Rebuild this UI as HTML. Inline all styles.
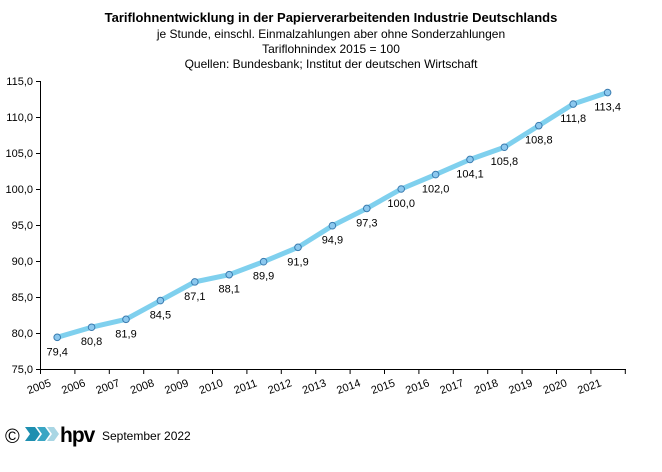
<!DOCTYPE html>
<html><head><style>body{margin:0;background:#fff}</style></head><body>
<svg width="662" height="467" xmlns="http://www.w3.org/2000/svg" font-family="Liberation Sans, Arial, sans-serif">
<rect width="662" height="467" fill="#fff"/>
<g text-anchor="middle" fill="#000">
<text x="331" y="22" font-size="13" font-weight="bold">Tariflohnentwicklung in der Papierverarbeitenden Industrie Deutschlands</text>
<text x="331" y="38" font-size="12">je Stunde,  einschl. Einmalzahlungen  aber ohne Sonderzahlungen</text>
<text x="331" y="53" font-size="12">Tariflohnindex  2015  = 100</text>
<text x="331" y="68" font-size="12">Quellen: Bundesbank; Institut der deutschen Wirtschaft</text>
</g>
<g stroke="#000" stroke-width="1">
<line x1="40.5" y1="81" x2="40.5" y2="369"/>
<line x1="40" y1="369.5" x2="626" y2="369.5"/>
<line x1="36" y1="81.5" x2="40" y2="81.5"/><line x1="36" y1="117.5" x2="40" y2="117.5"/><line x1="36" y1="153.5" x2="40" y2="153.5"/><line x1="36" y1="189.5" x2="40" y2="189.5"/><line x1="36" y1="225.5" x2="40" y2="225.5"/><line x1="36" y1="261.5" x2="40" y2="261.5"/><line x1="36" y1="297.5" x2="40" y2="297.5"/><line x1="36" y1="333.5" x2="40" y2="333.5"/><line x1="36" y1="369.5" x2="40" y2="369.5"/>
</g>
<g font-size="11" text-anchor="end">
<text x="33" y="85">115,0</text><text x="33" y="121">110,0</text><text x="33" y="157">105,0</text><text x="33" y="193">100,0</text><text x="33" y="229">95,0</text><text x="33" y="265">90,0</text><text x="33" y="301">85,0</text><text x="33" y="337">80,0</text><text x="33" y="373">75,0</text>
</g>
<g id="xt"></g>
<script>
var yrs=[];for(var i=2005;i<=2021;i++)yrs.push(i);
var v=[79.4,80.8,81.9,84.5,87.1,88.1,89.9,91.9,94.9,97.3,100.0,102.0,104.1,105.8,108.8,111.8,113.4];
var ns="http://www.w3.org/2000/svg",s=document.querySelector("svg");
function el(t,a,txt){var e=document.createElementNS(ns,t);for(var k in a)e.setAttribute(k,a[k]);if(txt)e.textContent=txt;s.appendChild(e);return e;}
for(var i=0;i<=17;i++){var x=40.5+i*34.4;el("line",{x1:x,y1:369,x2:x,y2:374,stroke:"#000"});}
var pts=[];
for(var i=0;i<17;i++){var x=57.2+i*34.4,y=81+(115-v[i])*7.2;pts.push(x+","+y);
 el("text",{x:0,y:0,"font-size":"11","text-anchor":"middle",transform:"translate("+(x-17)+",390) rotate(-20)"},String(yrs[i]));}
el("polyline",{points:pts.join(" "),fill:"none",stroke:"#7fd0ee","stroke-width":"5","stroke-linejoin":"round"});
for(var i=0;i<17;i++){var x=57.2+i*34.4,y=81+(115-v[i])*7.2;
 el("circle",{cx:x,cy:y,r:3.3,fill:"#8cc8ee",stroke:"#3a7cb0","stroke-width":"1"});
 el("text",{x:x,y:y+18,"font-size":"11","text-anchor":"middle"},v[i].toFixed(1).replace(".",","));}
</script>
<text x="5" y="443" font-size="20">©</text>
<g>
<path d="M25 427 h10 l5 7 l-5 7 h-10 l5 -7z" fill="#1e8fb0"/>
<path d="M37 427 h8 l5 7 l-5 7 h-8 l5 -7z" fill="#3aa6c4"/>
<path d="M47 427 h7 l5 7 l-5 7 h-7 l5 -7z" fill="#a9d6e4"/>
</g>
<text x="60" y="442" font-size="21" font-weight="bold" letter-spacing="-1">hpv</text>
<text x="102" y="440" font-size="12">September 2022</text>
</svg>
</body></html>
